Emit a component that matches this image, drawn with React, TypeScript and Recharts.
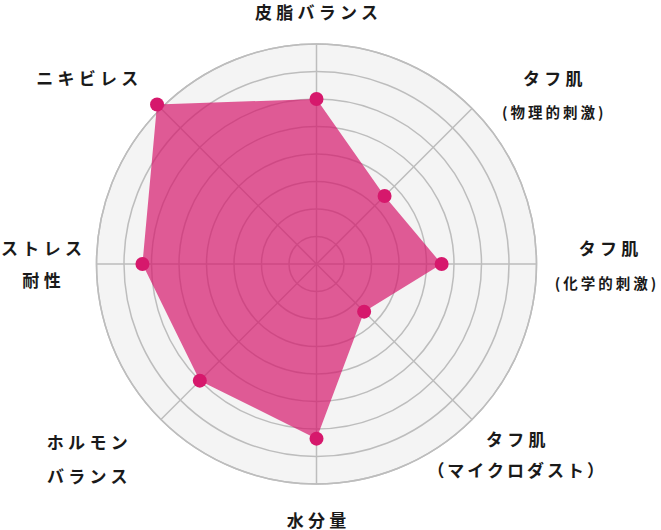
import React from 'react';
import { RadarChart, Radar, PolarGrid, PolarAngleAxis, PolarRadiusAxis } from 'recharts';

// Category names (axis labels), clockwise from top
const categories: string[] = [
  '皮脂バランス',
  'タフ肌（物理的刺激）',
  'タフ肌（化学的刺激）',
  'タフ肌（マイクロダスト）',
  '水分量',
  'ホルモンバランス',
  'ストレス耐性',
  'ニキビレス',
];

// Label lines shown for each category
const labelLines: string[][] = [
  ['皮脂バランス'],
  ['タフ肌', '(物理的刺激)'],
  ['タフ肌', '(化学的刺激)'],
  ['タフ肌', '（マイクロダスト）'],
  ['水分量'],
  ['ホルモン', 'バランス'],
  ['ストレス', '耐性'],
  ['ニキビレス'],
];

// Series values (scale 0–8)
const scores: number[] = [6, 3.5, 4.55, 2.45, 6.35, 6.0, 6.33, 8.2];

// Radius axis ticks
const radiusTicks: number[] = [0, 1, 2, 3, 4, 5, 6, 7, 8];

const data = categories.map((c, i) => ({ category: c, score: scores[i] }));

// Label layout (offsets from the tick anchor point), kept separate from data
type LineStyle = { dy: number; size: number; ls: number; dx?: number };
const labelLayout: { dx: number; lines: LineStyle[] }[] = [
  { dx: 0, lines: [{ dy: -25, size: 17, ls: 4.3 }] },
  { dx: 75, lines: [{ dy: -25.3, size: 17, ls: 4.3 }, { dy: 9.2, size: 14.5, ls: 3 }] },
  { dx: 64, lines: [{ dy: -16.5, size: 17, ls: 4.3 }, { dy: 18, size: 14.5, ls: 3, dx: -3 }] },
  { dx: 38, lines: [{ dy: 13.3, size: 17, ls: 4.3 }, { dy: 43.8, size: 17, ls: 3 }] },
  { dx: 0, lines: [{ dy: 27, size: 17, ls: 4.3 }] },
  { dx: -68, lines: [{ dy: 16.5, size: 17, ls: 4.3 }, { dy: 49.8, size: 17, ls: 4.3 }] },
  { dx: -47, lines: [{ dy: -17, size: 17, ls: 4.3 }, { dy: 15, size: 17, ls: 4.3 }] },
  { dx: -68, lines: [{ dy: -24.8, size: 17, ls: 4.3 }] },
];

const AngleTick = (props: any) => {
  const { x, y, payload } = props;
  const idx = categories.indexOf(payload.value);
  if (idx < 0) return null;
  const layout = labelLayout[idx];
  const lines = labelLines[idx];
  return (
    <g>
      {lines.map((line, li) => {
        const st = layout.lines[li];
        return (
          <text
            key={li}
            x={x + layout.dx + (st.dx || 0) + st.ls / 2}
            y={y + st.dy}
            textAnchor="middle"
            dominantBaseline="central"
            fontFamily='"Noto Sans CJK JP", "Noto Sans", sans-serif'
            fontWeight={700}
            fontSize={st.size}
            letterSpacing={st.ls}
            fill="#1a1a1a"
          >
            {line}
          </text>
        );
      })}
    </g>
  );
};

export default function App() {
  return (
    <div style={{ position: 'absolute', left: 0, top: 0, width: 661, height: 530, background: '#fff' }}>
      <RadarChart
        width={661}
        height={530}
        cx={316.5}
        cy={264}
        outerRadius={220}
        data={data}
        margin={{ top: 0, right: 0, bottom: 0, left: 0 }}
      >
        <PolarGrid gridType="circle" stroke="#bdbdbd" strokeWidth={1.5} fill="#f4f4f4" />
        <PolarAngleAxis dataKey="category" tick={<AngleTick />} tickLine={false} axisLine={false} />
        <PolarRadiusAxis
          domain={[0, 8]}
          ticks={radiusTicks as any}
          tickCount={9}
          allowDataOverflow={true}
          tick={false}
          axisLine={false}
        />
        <Radar
          dataKey="score"
          fill="#d6186c"
          fillOpacity={0.7}
          stroke="none"
          dot={{ r: 7, fill: '#d6186c', fillOpacity: 1, stroke: 'none' }}
          isAnimationActive={false}
        />
      </RadarChart>
    </div>
  );
}
